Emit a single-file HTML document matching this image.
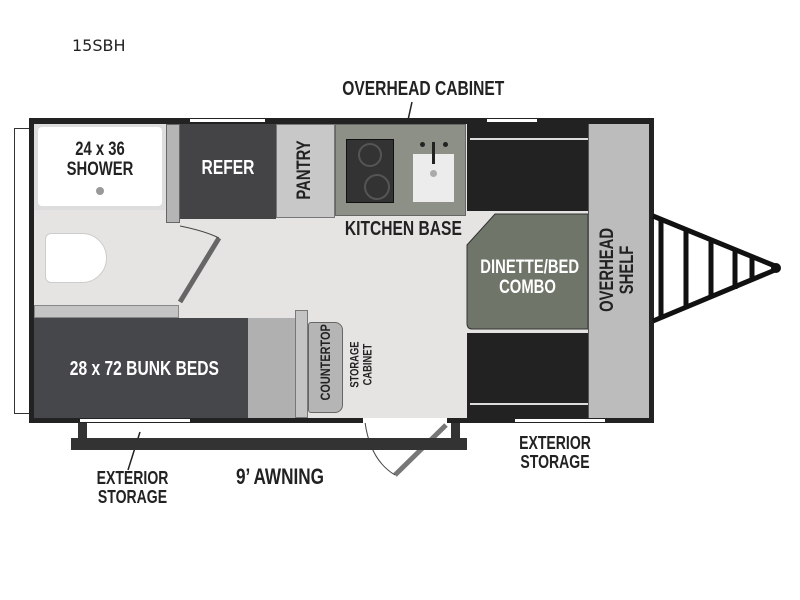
<!DOCTYPE html>
<html><head><style>
body{margin:0;width:800px;height:600px;background:#fff;position:relative;overflow:hidden}
div{position:absolute;box-sizing:border-box}
.t{font-family:"Liberation Sans",sans-serif;font-weight:bold;color:#222;white-space:nowrap;text-align:center;line-height:1.05;transform:scaleX(0.78)}
.w{color:#fff}
.v{transform:rotate(-90deg) scaleX(0.78)}
</style></head><body>
<div style="left:72px;top:36px;font-family:'DejaVu Sans',sans-serif;font-size:16px;color:#222">15SBH</div>
<div class="t" style="left:322px;top:79px;width:184px;font-size:20px">OVERHEAD CABINET</div>
<svg style="position:absolute;left:0;top:0" width="800" height="600">
<line x1="412" y1="102" x2="404" y2="138" stroke="#222" stroke-width="1.5"/>
</svg>
<div style="left:14px;top:128px;width:17px;height:286px;border:1.5px solid #333;border-right:none;background:#fff"></div>
<div style="left:29px;top:118px;width:625px;height:305px;background:#222"></div>
<div style="left:34px;top:124px;width:555px;height:294px;background:#e6e4e2"></div>
<div style="left:190px;top:119px;width:75px;height:3px;background:#fff"></div>
<div style="left:487px;top:119px;width:50px;height:3px;background:#fff"></div>
<div style="left:34px;top:124px;width:132px;height:86px;background:#ddd"></div>
<div style="left:38px;top:127px;width:124px;height:79px;background:#fff;border-radius:4px"></div>
<div style="left:96px;top:187px;width:8px;height:8px;border-radius:50%;background:#999"></div>
<div class="t" style="left:54px;top:140px;width:92px;font-size:19px">24 x 36<br>SHOWER</div>
<div style="left:166px;top:124px;width:14px;height:99px;background:#b5b5b5;border:1px solid #666"></div>
<div style="left:180px;top:124px;width:96px;height:95px;background:#444447"></div>
<div class="t w" style="left:180px;top:158px;width:96px;font-size:20px">REFER</div>
<div style="left:276px;top:124px;width:59px;height:94px;background:#c8c8c8;border:1px solid #777"></div>
<div class="t v" style="left:265px;top:160px;width:80px;font-size:19px">PANTRY</div>
<div style="left:335px;top:124px;width:131px;height:92px;background:#8c9086;border:1px solid #666"></div>
<div style="left:346px;top:139px;width:48px;height:64px;background:#333;border:1px solid #111"></div>
<div style="left:358px;top:143px;width:24px;height:24px;border-radius:50%;border:2px solid #555"></div>
<div style="left:364px;top:174px;width:26px;height:26px;border-radius:50%;border:2px solid #555"></div>
<div style="left:413px;top:154px;width:41px;height:48px;background:#ececec"></div>
<div style="left:432px;top:142px;width:3px;height:22px;background:#222"></div>
<div style="left:420px;top:142px;width:5px;height:5px;border-radius:50%;background:#222"></div>
<div style="left:443px;top:142px;width:5px;height:5px;border-radius:50%;background:#222"></div>
<div style="left:430px;top:170px;width:7px;height:7px;border-radius:50%;background:#aaa"></div>
<div class="t" style="left:330px;top:219px;width:135px;font-size:20px">KITCHEN BASE</div>
<div style="left:467px;top:124px;width:121px;height:87px;background:#222"></div>
<div style="left:470px;top:138px;width:118px;height:2px;background:#ddd"></div>
<div style="left:467px;top:333px;width:121px;height:85px;background:#222"></div>
<div style="left:470px;top:403px;width:118px;height:2px;background:#ddd"></div>
<svg style="position:absolute;left:0;top:0" width="800" height="600">
<path d="M495 214 L588 214 L588 329 L472 329 Q467 329 467 323 L467 245 Z" fill="#6f7569" stroke="#333" stroke-width="1"/>
<path d="M653 216 L775 266 M653 321 L775 270" stroke="#111" stroke-width="5" fill="none"/>
<path d="M661 219 V318 M686 229 V309 M711 240 V298 M735 250 V289 M752 257 V281" stroke="#111" stroke-width="5"/>
<circle cx="776" cy="268" r="5" fill="#111"/>
<line x1="219" y1="238" x2="180" y2="302" stroke="#666" stroke-width="5"/>
<path d="M180 226 Q205 231 219 238" stroke="#444" fill="none" stroke-width="1"/>
<line x1="446" y1="425" x2="395" y2="475" stroke="#777" stroke-width="5"/>
<path d="M365 422 Q370 460 395 475" stroke="#444" fill="none" stroke-width="1"/>
<line x1="140" y1="432" x2="128" y2="470" stroke="#222" stroke-width="1.5"/>
</svg>
<div class="t w" style="left:467px;top:258px;width:121px;font-size:19px">DINETTE/BED<br>COMBO</div>
<div style="left:588px;top:124px;width:61px;height:294px;background:#bcbcbc;border-left:1px solid #555"></div>
<div class="t v" style="left:558px;top:250px;width:120px;font-size:19px">OVERHEAD<br>SHELF</div>
<div style="left:45px;top:233px;width:62px;height:50px;background:#fff;border:1px solid #ccc;border-radius:6px 25px 25px 6px"></div>
<div style="left:34px;top:305px;width:145px;height:13px;background:#c4c4c4;border:1px solid #888"></div>
<div style="left:34px;top:318px;width:214px;height:100px;background:#46474b"></div>
<div style="left:248px;top:318px;width:47px;height:100px;background:#b0b0b0"></div>
<div class="t w" style="left:50px;top:359px;width:180px;font-size:20px">28 x 72 BUNK BEDS</div>
<div style="left:295px;top:310px;width:13px;height:108px;background:#c4c4c4;border:1px solid #777"></div>
<div style="left:308px;top:322px;width:35px;height:91px;background:#b5b5b5;border:1px solid #666;border-radius:3px 8px 8px 3px"></div>
<div class="t v" style="left:283px;top:360px;width:85px;font-size:14px">COUNTERTOP</div>
<div class="t v" style="left:326px;top:352px;width:70px;font-size:12px">STORAGE<br>CABINET</div>
<div style="left:80px;top:419px;width:110px;height:3px;background:#fff"></div>
<div style="left:363px;top:418px;width:84px;height:5px;background:#fff"></div>
<div style="left:515px;top:419px;width:90px;height:3px;background:#fff"></div>
<div style="left:78px;top:423px;width:9px;height:16px;background:#333"></div>
<div style="left:451px;top:423px;width:9px;height:16px;background:#333"></div>
<div style="left:71px;top:438px;width:396px;height:12px;background:#333"></div>
<div class="t" style="left:70px;top:469px;width:125px;font-size:18px">EXTERIOR<br>STORAGE</div>
<div class="t" style="left:215px;top:465px;width:130px;font-size:22px">9’ AWNING</div>
<div class="t" style="left:495px;top:434px;width:120px;font-size:18px">EXTERIOR<br>STORAGE</div>
</body></html>
